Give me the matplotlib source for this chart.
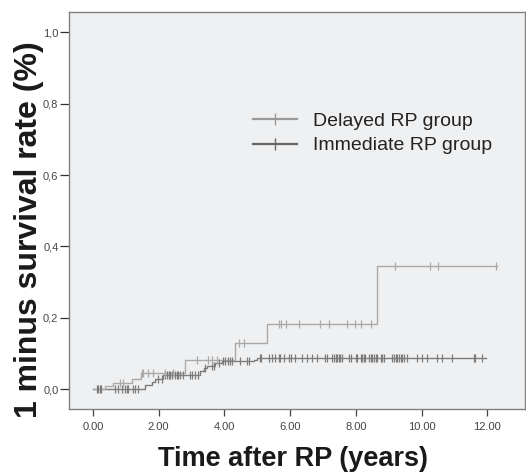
import numpy as np
import matplotlib.pyplot as plt
from matplotlib.lines import Line2D

plt.rcParams["font.family"] = ["Liberation Sans", "DejaVu Sans"]

# Delayed RP group: event times (years) and cumulative 1 - survival
delayed_t = [0.0, 0.37, 0.62, 1.18, 1.45, 2.81, 4.33, 5.31, 8.63]
delayed_y = [0.0, 0.008, 0.018, 0.028, 0.044, 0.083, 0.128, 0.182, 0.345]
delayed_end = 12.3
delayed_cens = [0.82, 0.92, 1.48, 1.53, 1.67, 1.84, 2.19, 2.45, 3.16, 3.51, 3.62,
                3.77, 4.45, 4.60, 5.67, 5.72, 5.87, 6.27, 6.92, 7.18, 7.73, 7.97,
                8.16, 8.47, 9.20, 10.24, 10.50, 12.26]

# Immediate RP group
immed_t = [0.0, 1.58, 1.79, 1.90, 2.12, 3.27, 3.37, 3.47, 3.72, 3.93, 4.90, 5.00]
immed_y = [0.0, 0.012, 0.020, 0.028, 0.041, 0.050, 0.058, 0.066, 0.072, 0.078, 0.083, 0.088]
immed_end = 11.95
immed_cens = [0.11, 0.16, 0.21, 0.26, 0.67, 0.77, 0.87, 0.98, 1.03, 1.08, 1.23, 1.28, 1.38,
              1.99, 2.09, 2.20, 2.25, 2.30, 2.35, 2.40, 2.50, 2.55, 2.60, 2.65, 2.75,
              2.96, 3.01, 3.11, 3.21, 3.42, 3.62, 3.67, 3.82, 3.97, 4.02, 4.12, 4.18,
              4.23, 4.48, 4.68, 4.74,
              5.09, 5.12, 5.35, 5.45, 5.55, 5.65, 5.70, 5.80, 5.96, 6.01, 6.16, 6.36,
              6.51, 6.67, 6.82, 7.07, 7.12, 7.28, 7.33, 7.38, 7.43, 7.48, 7.53, 7.58,
              7.79, 7.84, 7.99, 8.04, 8.14, 8.19, 8.24, 8.29, 8.39, 8.45, 8.50, 8.55,
              8.60, 8.65, 8.75, 8.80, 8.85, 9.11, 9.16, 9.21, 9.26, 9.31, 9.36, 9.41,
              9.46, 9.56, 9.87, 10.02, 10.17, 10.48, 10.63, 10.93, 11.58, 11.63, 11.83]

x_ticks = [0, 2, 4, 6, 8, 10, 12]
y_ticks = [0.0, 0.2, 0.4, 0.6, 0.8, 1.0]

c_delayed = "#a9a9a9"
c_immed = "#7c7c7c"

fig = plt.figure(figsize=(5.26, 4.73), dpi=100)
ax = fig.add_axes([0.131, 0.135, 0.867, 0.839])
ax.set_facecolor("#eff0f2")


def draw_group(t, y, end, cens, color):
    xs = list(t) + [end]
    ys = list(y) + [y[-1]]
    ax.step(xs, ys, where="post", color=color, lw=1.0, zorder=2)
    idx = np.searchsorted(t, cens, side="right") - 1
    ax.plot(cens, np.array(y)[idx], ls="none", marker="|", ms=6, mew=0.9,
            color=color, zorder=3)


draw_group(immed_t, immed_y, immed_end, immed_cens, c_immed)
draw_group(delayed_t, delayed_y, delayed_end, delayed_cens, c_delayed)

ax.set_xlim(-0.73, 13.14)
ax.set_ylim(-0.056, 1.056)
ax.set_xticks(x_ticks)
ax.set_xticklabels(["%.2f" % v for v in x_ticks])
ax.set_yticks(y_ticks)
ax.set_yticklabels([("%.1f" % v).replace(".", ",") for v in y_ticks])
ax.tick_params(axis="x", direction="out", length=5, width=0.9, color="#444444",
               labelsize=8, labelcolor="#444444", pad=4)
ax.tick_params(axis="y", direction="out", length=6.5, width=0.9, color="#333333",
               labelsize=8, labelcolor="#444444", pad=1)
for side in ["left", "top", "bottom", "right"]:
    ax.spines[side].set_color("#808080")
    ax.spines[side].set_linewidth(1.0)

ax.set_xlabel("Time after RP (years)", fontsize=19.5, fontweight="bold",
              color="#1a1a1a", labelpad=10)
ax.xaxis.label.set_x(0.491)
ax.set_ylabel("1 minus survival rate (%)", fontsize=23, fontweight="bold",
              color="#1a1a1a")
ax.yaxis.set_label_coords(-0.055, 0.453)

handles = [Line2D([], [], color="#9a9a9a", lw=1.6, marker="|", ms=8, mew=1.0),
           Line2D([], [], color="#666666", lw=1.6, marker="|", ms=8, mew=1.0)]
fig.legend(handles, ["Delayed RP group", "Immediate RP group"],
           loc="upper left", bbox_to_anchor=(0.462, 0.783), frameon=False,
           prop={"size": 14}, labelcolor="#222222",
           handlelength=2.3, handletextpad=0.8, labelspacing=0.35, borderpad=0,
           numpoints=1)

fig.savefig("out.png", dpi=100, facecolor="white")
